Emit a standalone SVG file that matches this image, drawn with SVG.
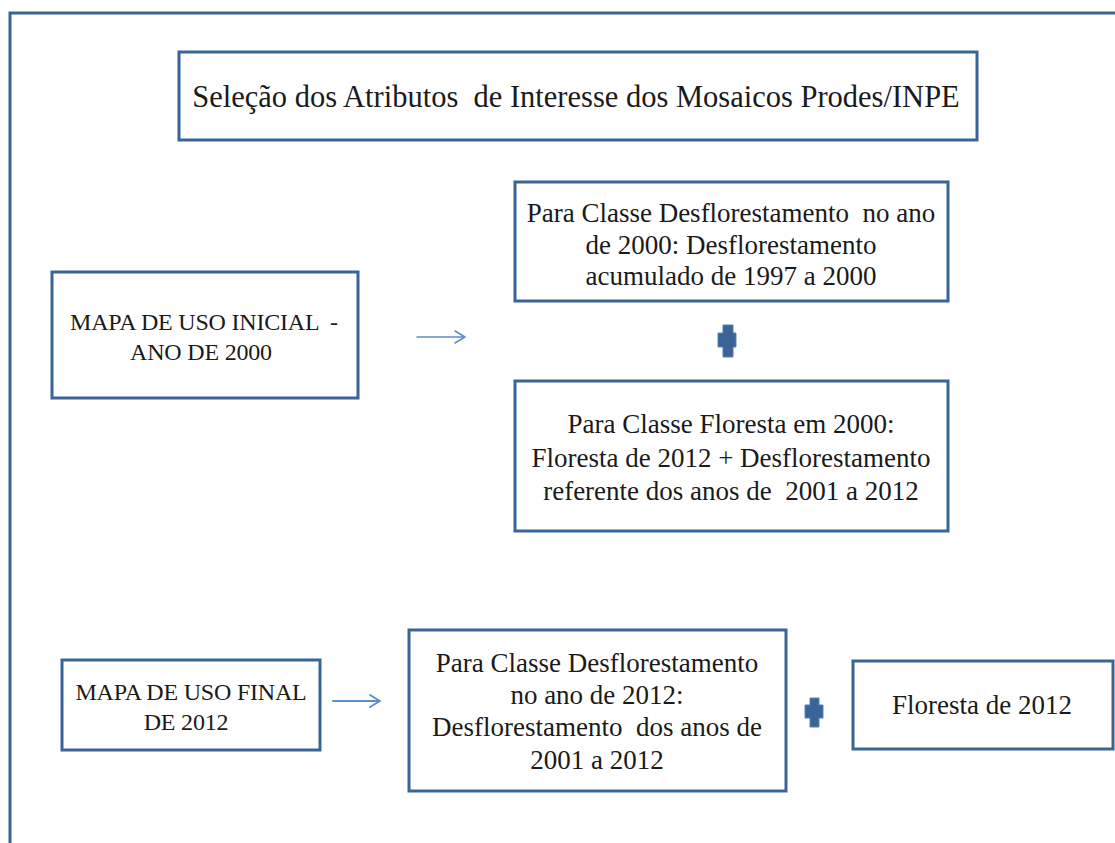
<svg xmlns="http://www.w3.org/2000/svg" width="1115" height="843" viewBox="0 0 1115 843">
  <style>
    .box { fill: #ffffff; stroke: #3b6496; stroke-width: 3; }
    .frame { fill: none; stroke: #3b6496; stroke-width: 3; }
    .t { font-family: "Liberation Serif", "DejaVu Serif", serif; fill: #1a1a1a; text-anchor: middle; }
    .big { font-size: 30.5px; }
    .mid { font-size: 27px; }
    .caps { font-size: 24px; letter-spacing: -0.2px; }
    .arrow { stroke: #5b8fd0; fill: none; stroke-linecap: round; stroke-linejoin: round; }
    .plus { fill: #3b6496; stroke: #5a82b4; stroke-width: 1; }
  </style>

  <rect width="1115" height="843" fill="#ffffff"/>

  <!-- outer frame (top and left edges) -->
  <path class="frame" d="M10,843 V13 H1115"/>

  <g id="titulo">
    <rect class="box" x="179" y="52" width="798" height="88"/>
    <text class="t big" x="576" y="107" xml:space="preserve">Seleção dos Atributos  de Interesse dos Mosaicos Prodes/INPE</text>
  </g>

  <g id="mapa-inicial">
    <rect class="box" x="52" y="272" width="306" height="126"/>
    <text class="t caps" x="204" y="330" xml:space="preserve">MAPA DE USO INICIAL  -</text>
    <text class="t caps" x="201" y="360">ANO DE 2000</text>
  </g>

  <g id="desflorestamento-2000">
    <rect class="box" x="515" y="182" width="433" height="119"/>
    <text class="t mid" x="731" y="222" xml:space="preserve">Para Classe Desflorestamento  no ano</text>
    <text class="t mid" x="731" y="254">de 2000: Desflorestamento</text>
    <text class="t mid" x="731" y="285">acumulado de 1997 a 2000</text>
  </g>

  <g id="floresta-2000">
    <rect class="box" x="515" y="381" width="433" height="150"/>
    <text class="t mid" x="731" y="433">Para Classe Floresta em 2000:</text>
    <text class="t mid" x="731" y="467">Floresta de 2012 + Desflorestamento</text>
    <text class="t mid" x="731" y="500" xml:space="preserve">referente dos anos de  2001 a 2012</text>
  </g>

  <g id="mapa-final">
    <rect class="box" x="62" y="660" width="258" height="90"/>
    <text class="t caps" x="191" y="700">MAPA DE USO FINAL</text>
    <text class="t caps" x="186" y="730">DE 2012</text>
  </g>

  <g id="desflorestamento-2012">
    <rect class="box" x="409" y="630" width="377" height="161"/>
    <text class="t mid" x="597" y="672">Para Classe Desflorestamento</text>
    <text class="t mid" x="597" y="704">no ano de 2012:</text>
    <text class="t mid" x="597" y="736" xml:space="preserve">Desflorestamento  dos anos de</text>
    <text class="t mid" x="597" y="769">2001 a 2012</text>
  </g>

  <g id="floresta-2012">
    <rect class="box" x="853" y="661" width="260" height="88"/>
    <text class="t mid" x="982" y="714">Floresta de 2012</text>
  </g>

  <g id="conectores">
    <g id="seta-inicial">
      <path class="arrow" stroke-width="1.5" d="M417,337 H465 M455,331 L465,337 L455,343"/>
    </g>
    <g id="seta-final">
      <path class="arrow" stroke-width="2" d="M333,701 H380 M370,695 L380,701 L370,707"/>
    </g>
    <g id="soma-superior">
      <path class="plus" d="M723,325 H733 V333 H736 V347 H733 V357 H723 V347 H718 V333 H723 Z"/>
    </g>
    <g id="soma-inferior">
      <path class="plus" d="M810,698 H819 V705 H823 V718 H819 V727 H810 V718 H805 V705 H810 Z"/>
    </g>
  </g>
</svg>
